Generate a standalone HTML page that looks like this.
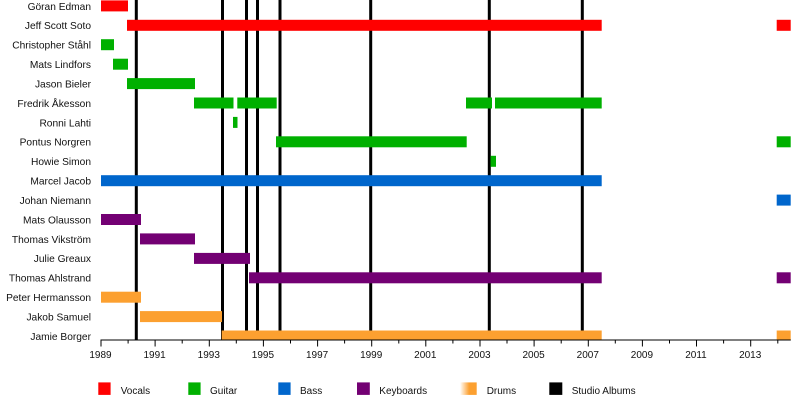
<!DOCTYPE html>
<html>
<head>
<meta charset="utf-8">
<style>
  html, body { margin: 0; padding: 0; background: #fff; }
  svg { display: block; }
  text { font-family: "Liberation Sans", "DejaVu Sans", sans-serif; fill: #111; }
</style>
</head>
<body>
<svg width="800" height="400" viewBox="0 0 800 400" xmlns="http://www.w3.org/2000/svg">
  <defs>
    <linearGradient id="dg" x1="0" y1="0" x2="1" y2="0">
      <stop offset="0" stop-color="#ffffff"/>
      <stop offset="0.55" stop-color="#fca030"/>
      <stop offset="1" stop-color="#fca030"/>
    </linearGradient>
  </defs>
  <rect width="800" height="400" fill="#fff"/>

  <!-- Studio album lines (behind bars) -->
  <g fill="#000">
    <rect x="134.8" y="0" width="3" height="340"/>
    <rect x="221" y="0" width="3" height="340"/>
    <rect x="245" y="0" width="3" height="340"/>
    <rect x="256" y="0" width="3" height="340"/>
    <rect x="278.5" y="0" width="3" height="340"/>
    <rect x="369.2" y="0" width="3" height="340"/>
    <rect x="487.8" y="0" width="3" height="340"/>
    <rect x="580.8" y="0" width="3" height="340"/>
  </g>

  <!-- Vocals -->
  <g fill="#ff0000">
    <rect x="101" y="0.4" width="27" height="11"/>
    <rect x="127" y="19.8" width="474.7" height="11"/>
    <rect x="776.7" y="19.8" width="14" height="11"/>
  </g>
  <!-- Guitar -->
  <g fill="#00b000">
    <rect x="101" y="39.2" width="13" height="11"/>
    <rect x="113" y="58.7" width="15" height="11"/>
    <rect x="127" y="78.1" width="68" height="11"/>
    <rect x="194" y="97.5" width="39.5" height="11"/>
    <rect x="237.3" y="97.5" width="39.4" height="11"/>
    <rect x="466" y="97.5" width="26" height="11"/>
    <rect x="495" y="97.5" width="106.7" height="11"/>
    <rect x="233" y="116.9" width="4.5" height="11"/>
    <rect x="276" y="136.3" width="190.7" height="11"/>
    <rect x="776.7" y="136.3" width="14" height="11"/>
    <rect x="490.5" y="155.8" width="5.5" height="11"/>
  </g>
  <!-- Bass -->
  <g fill="#0066cc">
    <rect x="101" y="175.2" width="500.7" height="11"/>
    <rect x="776.7" y="194.6" width="14" height="11"/>
  </g>
  <!-- Keyboards -->
  <g fill="#730073">
    <rect x="101" y="214" width="40" height="11"/>
    <rect x="140" y="233.4" width="55" height="11"/>
    <rect x="194" y="252.9" width="56" height="11"/>
    <rect x="249" y="272.3" width="352.7" height="11"/>
    <rect x="776.7" y="272.3" width="14" height="11"/>
  </g>
  <!-- Drums -->
  <g fill="#fca030">
    <rect x="101" y="291.7" width="40" height="11"/>
    <rect x="140" y="311.1" width="82" height="11"/>
    <rect x="221.7" y="330.5" width="380" height="9.5"/>
    <rect x="776.7" y="330.5" width="14" height="9.5"/>
  </g>

  <!-- Names -->
  <g font-size="10.2" text-anchor="end">
    <text x="91" y="9.8">Göran Edman</text>
    <text x="91" y="29.2">Jeff Scott Soto</text>
    <text x="91" y="48.6">Christopher Ståhl</text>
    <text x="91" y="68">Mats Lindfors</text>
    <text x="91" y="87.4">Jason Bieler</text>
    <text x="91" y="106.8">Fredrik Åkesson</text>
    <text x="91" y="126.3">Ronni Lahti</text>
    <text x="91" y="145.7">Pontus Norgren</text>
    <text x="91" y="165.1">Howie Simon</text>
    <text x="91" y="184.5">Marcel Jacob</text>
    <text x="91" y="203.9">Johan Niemann</text>
    <text x="91" y="223.4">Mats Olausson</text>
    <text x="91" y="242.8">Thomas Vikström</text>
    <text x="91" y="262.2">Julie Greaux</text>
    <text x="91" y="281.6">Thomas Ahlstrand</text>
    <text x="91" y="301">Peter Hermansson</text>
    <text x="91" y="320.4">Jakob Samuel</text>
    <text x="91" y="339.8">Jamie Borger</text>
  </g>

  <!-- Axis -->
  <rect x="100.5" y="339.5" width="690.3" height="1" fill="#000"/>
  <g stroke="#000" stroke-width="1">
    <!-- major ticks -->
    <line x1="101" y1="340" x2="101" y2="346.5"/>
    <line x1="155.1" y1="340" x2="155.1" y2="346.5"/>
    <line x1="209.3" y1="340" x2="209.3" y2="346.5"/>
    <line x1="263.4" y1="340" x2="263.4" y2="346.5"/>
    <line x1="317.6" y1="340" x2="317.6" y2="346.5"/>
    <line x1="371.7" y1="340" x2="371.7" y2="346.5"/>
    <line x1="425.8" y1="340" x2="425.8" y2="346.5"/>
    <line x1="480" y1="340" x2="480" y2="346.5"/>
    <line x1="534.1" y1="340" x2="534.1" y2="346.5"/>
    <line x1="588.3" y1="340" x2="588.3" y2="346.5"/>
    <line x1="642.4" y1="340" x2="642.4" y2="346.5"/>
    <line x1="696.5" y1="340" x2="696.5" y2="346.5"/>
    <line x1="750.7" y1="340" x2="750.7" y2="346.5"/>
    <!-- minor ticks -->
    <line x1="128.1" y1="340" x2="128.1" y2="343.5"/>
    <line x1="182.2" y1="340" x2="182.2" y2="343.5"/>
    <line x1="236.3" y1="340" x2="236.3" y2="343.5"/>
    <line x1="290.5" y1="340" x2="290.5" y2="343.5"/>
    <line x1="344.6" y1="340" x2="344.6" y2="343.5"/>
    <line x1="398.8" y1="340" x2="398.8" y2="343.5"/>
    <line x1="452.9" y1="340" x2="452.9" y2="343.5"/>
    <line x1="507" y1="340" x2="507" y2="343.5"/>
    <line x1="561.2" y1="340" x2="561.2" y2="343.5"/>
    <line x1="615.3" y1="340" x2="615.3" y2="343.5"/>
    <line x1="669.5" y1="340" x2="669.5" y2="343.5"/>
    <line x1="723.6" y1="340" x2="723.6" y2="343.5"/>
    <line x1="777.8" y1="340" x2="777.8" y2="343.5"/>
  </g>
  <g font-size="10" text-anchor="middle">
    <text x="100.5" y="358">1989</text>
    <text x="154.6" y="358">1991</text>
    <text x="208.8" y="358">1993</text>
    <text x="262.9" y="358">1995</text>
    <text x="317.1" y="358">1997</text>
    <text x="371.2" y="358">1999</text>
    <text x="425.3" y="358">2001</text>
    <text x="479.5" y="358">2003</text>
    <text x="533.6" y="358">2005</text>
    <text x="587.8" y="358">2007</text>
    <text x="641.9" y="358">2009</text>
    <text x="696" y="358">2011</text>
    <text x="750.2" y="358">2013</text>
  </g>

  <!-- Legend -->
  <rect x="98.3" y="382.4" width="12.3" height="12.5" fill="#ff0000"/>
  <rect x="188.3" y="382.4" width="12.3" height="12.5" fill="#00b000"/>
  <rect x="278.3" y="382.4" width="12.3" height="12.5" fill="#0066cc"/>
  <rect x="357" y="382.4" width="12.8" height="12.5" fill="#730073"/>
  <rect x="460" y="382.4" width="16.7" height="12.5" fill="url(#dg)"/>
  <rect x="549.3" y="382.4" width="13" height="12.5" fill="#000"/>
  <g font-size="10">
    <text x="120.7" y="393.8">Vocals</text>
    <text x="210" y="393.8">Guitar</text>
    <text x="300" y="393.8">Bass</text>
    <text x="379.3" y="393.8">Keyboards</text>
    <text x="486.7" y="393.8">Drums</text>
    <text x="571.7" y="393.8">Studio Albums</text>
  </g>
</svg>
</body>
</html>
